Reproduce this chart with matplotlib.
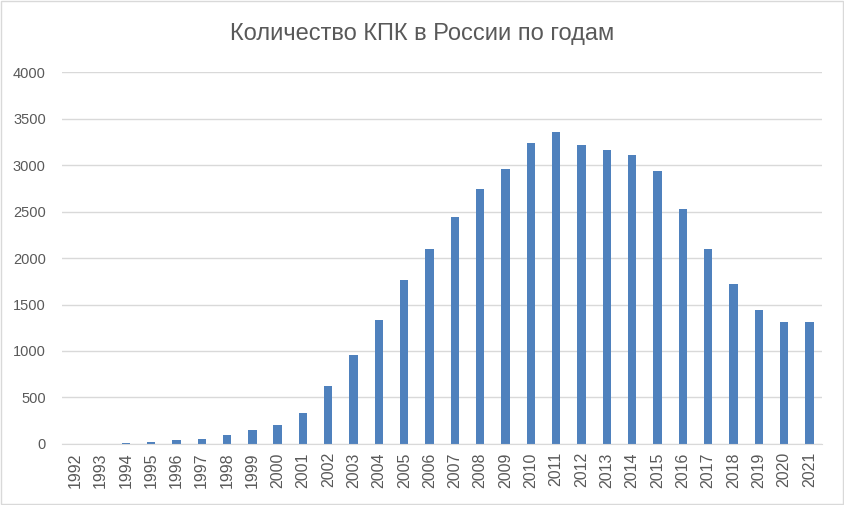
import matplotlib
matplotlib.use("Agg")
import matplotlib.pyplot as plt
from matplotlib.patches import Rectangle

years = [str(y) for y in range(1992, 2022)]
counts = [0, 0, 14, 25, 43, 54, 97, 150, 204, 333,
          624, 952, 1333, 1763, 2097, 2441, 2742, 2957, 3237, 3355,
          3215, 3161, 3108, 2935, 2527, 2097, 1720, 1441, 1312, 1312]
yticks = [0, 500, 1000, 1500, 2000, 2500, 3000, 3500, 4000]

plt.rcParams['font.family'] = ['Liberation Sans', 'DejaVu Sans']

fig = plt.figure(figsize=(8.44, 5.05), dpi=100)
ax = fig.add_axes([0.074, 0.121, 0.900, 0.736])

x = range(len(years))
ax.bar(x, counts, width=0.33, color='#4F81BD', zorder=3)

ax.set_xlim(-0.5, len(years) - 0.5)
ax.set_ylim(0, 4000)
ax.set_yticks(yticks)
ax.set_xticks(list(x))
ax.set_xticklabels(years, rotation=90)
ax.tick_params(axis='both', length=0, labelsize=10.5, colors='#595959')
ax.tick_params(axis='x', labelsize=11.5, pad=6)
ax.tick_params(axis='y', pad=12)
ax.grid(axis='y', color='#D9D9D9', linewidth=1, zorder=0)

for side in ['top', 'right', 'left']:
    ax.spines[side].set_visible(False)
ax.spines['bottom'].set_color('#D9D9D9')
ax.spines['bottom'].set_zorder(4)

fig.text(0.5, 0.932, 'Количество КПК в России по годам', ha='center', va='center',
         fontsize=17, color='#595959')

# light chart border like Excel
fig.patches.append(Rectangle((0.001, 0.001), 0.998, 0.997, transform=fig.transFigure,
                             fill=False, edgecolor='#D9D9D9', linewidth=1))

fig.savefig('out.png', dpi=100)
